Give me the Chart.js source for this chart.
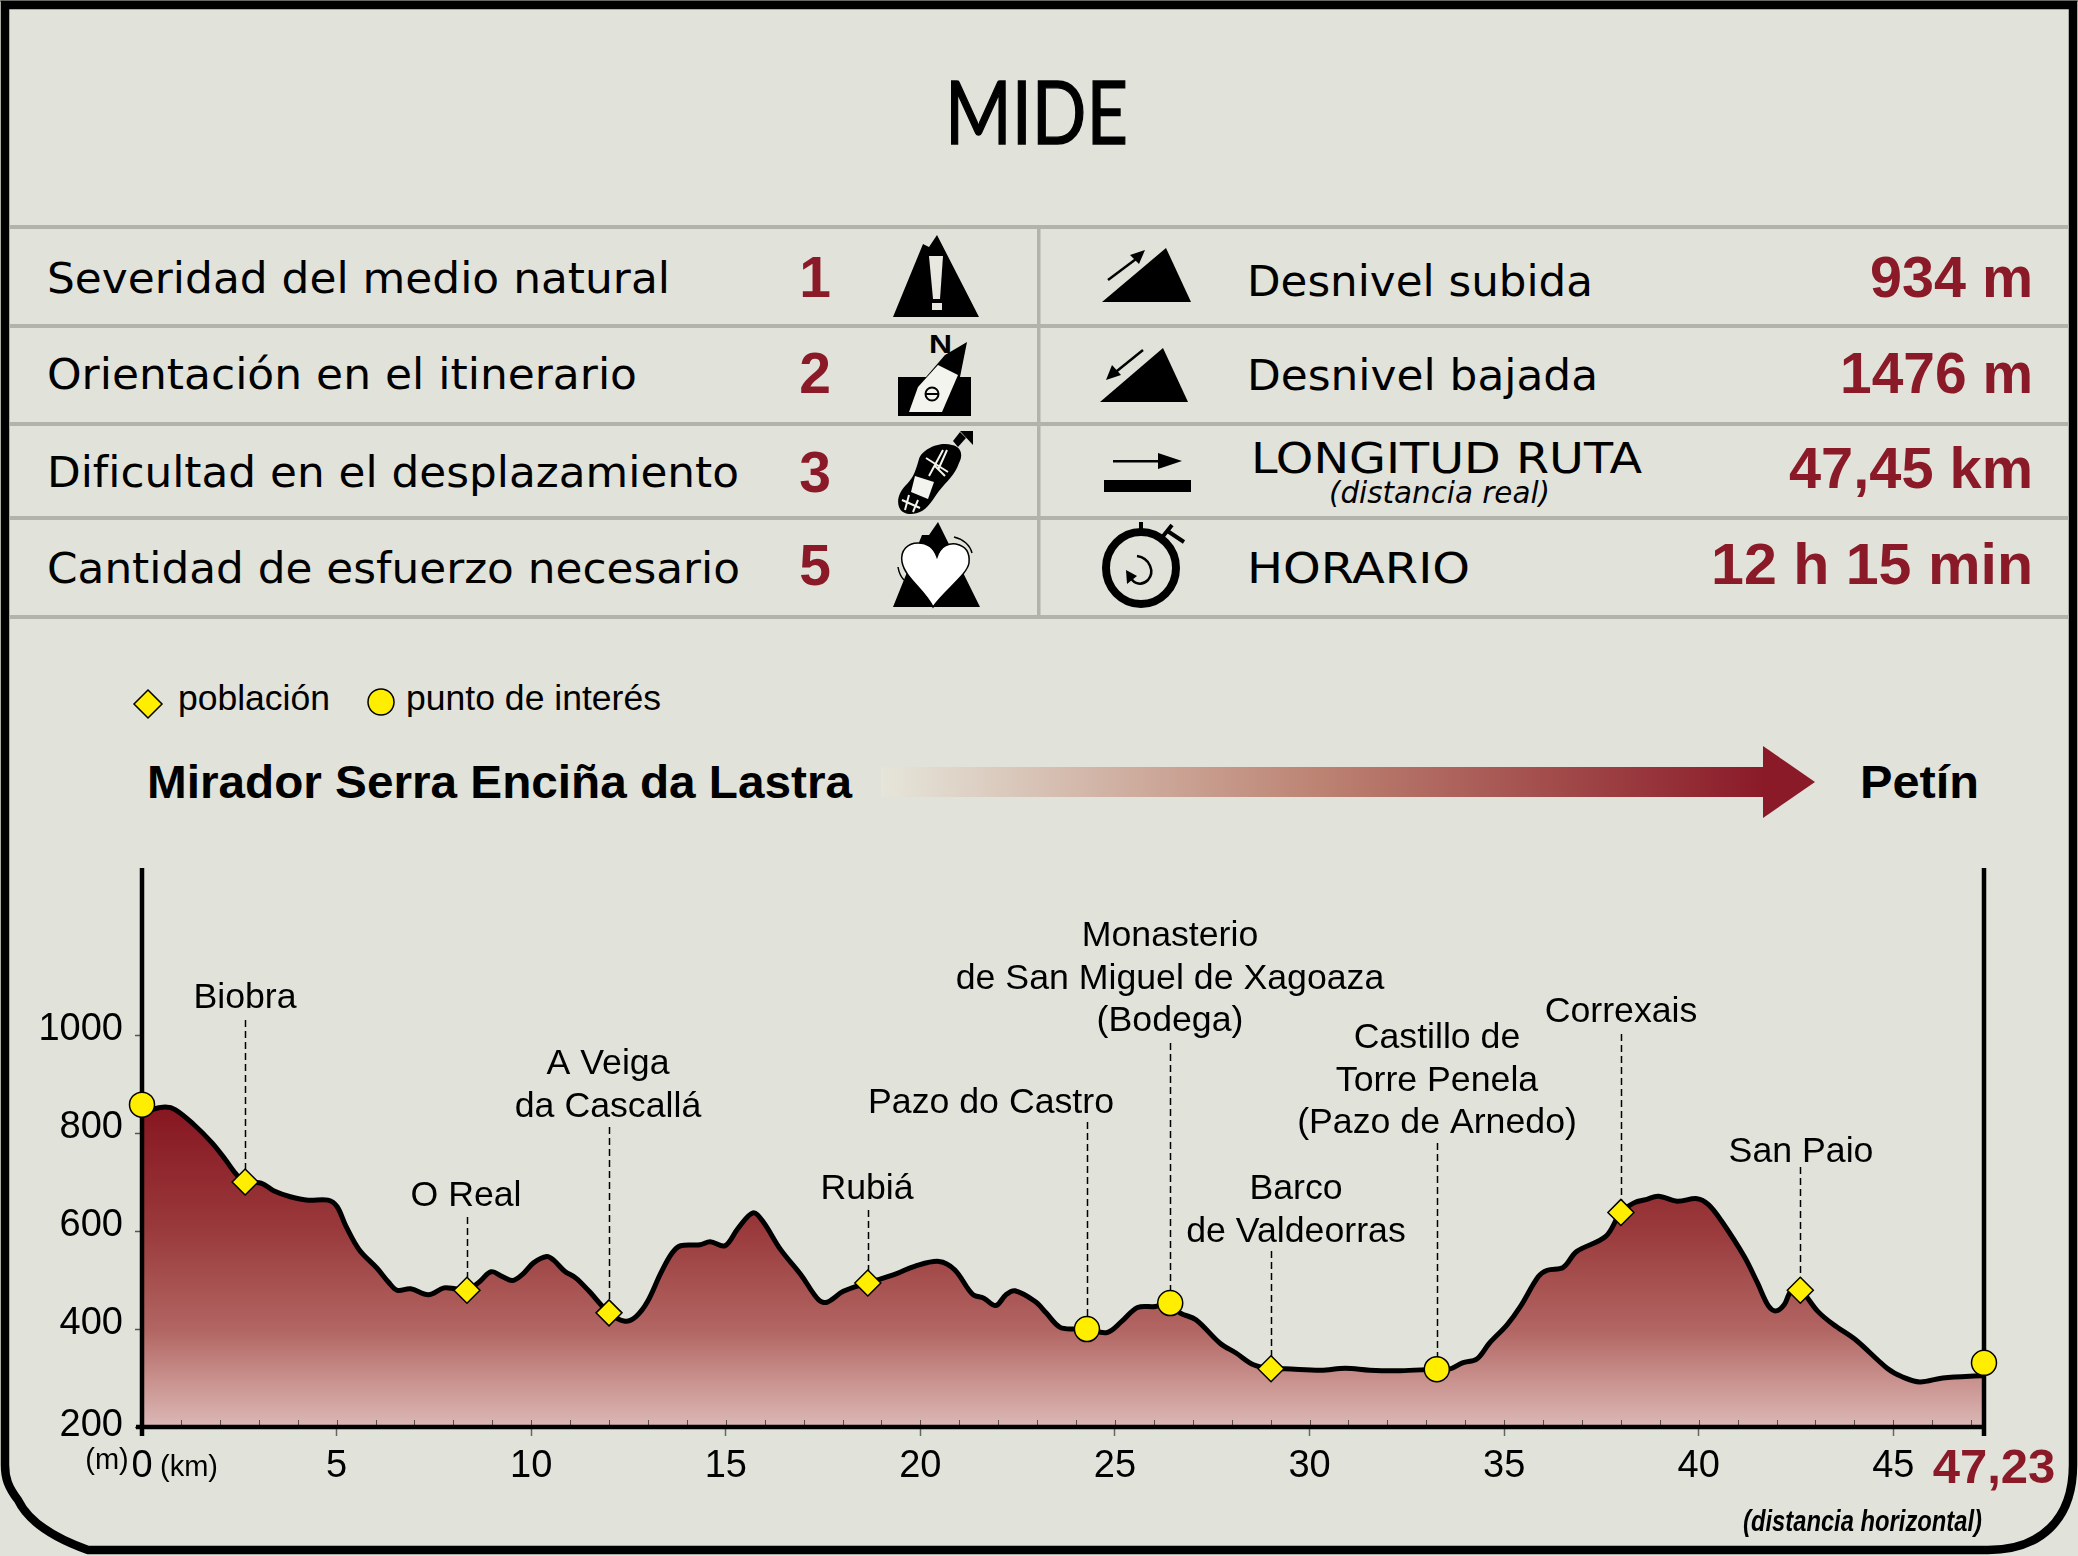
<!DOCTYPE html>
<html lang="es">
<head>
<meta charset="utf-8">
<title>MIDE</title>
<script src="https://cdn.jsdelivr.net/npm/chart.js@4/dist/chart.umd.min.js"></script>
<style>
  html, body { margin: 0; padding: 0; background: #e1e2d9; }
  #page { position: relative; width: 2078px; height: 1556px; overflow: hidden; }
  #sheet, #chartBox { position: absolute; left: 0; top: 0; width: 2078px; height: 1556px; }
</style>
</head>
<body>
<div id="page">
  <svg id="sheet" width="2078" height="1556" viewBox="0 0 2078 1556" xmlns="http://www.w3.org/2000/svg"></svg>
  <div id="chartBox"><canvas id="profile" width="2078" height="1556"></canvas></div>
</div>
<script>
// mide table
const leftLabels = ['Severidad del medio natural', 'Orientación en el itinerario', 'Dificultad en el desplazamiento', 'Cantidad de esfuerzo necesario'];
const leftGrades = ['1', '2', '3', '5'];
const rightLabels = ['Desnivel subida', 'Desnivel bajada', 'LONGITUD RUTA', 'HORARIO'];
const rightValues = ['934 m', '1476 m', '47,45 km', '12 h 15 min'];

// elevation profile: km and metres
const profileKm = [0, 0.31, 0.6, 0.85, 1.31, 1.8, 2.14, 2.43, 2.65, 3.06, 3.41, 3.81, 4.27, 4.78, 5.01, 5.24, 5.58, 6.04, 6.33, 6.56, 6.9, 7.36, 7.76, 8.05, 8.35, 8.68, 8.97, 9.26, 9.52, 9.77, 10.06, 10.4, 10.57, 10.86, 11.15, 11.49, 12, 12.41, 12.7, 12.99, 13.33, 13.62, 13.84, 14.34, 14.6, 14.98, 15.32, 15.7, 15.95, 16.41, 16.93, 17.39, 17.61, 18.02, 18.65, 19.39, 19.85, 20.48, 20.88, 21.34, 21.63, 21.94, 22.2, 22.43, 22.95, 23.23, 23.58, 23.96, 24.28, 24.8, 25.18, 25.58, 26.04, 26.42, 26.67, 27.08, 27.7, 28.11, 28.56, 29.01, 29.37, 30.29, 30.92, 31.55, 32.33, 33.27, 33.59, 33.93, 34.3, 34.62, 35.08, 35.42, 35.88, 36.11, 36.52, 36.86, 37.61, 38, 38.35, 38.64, 38.96, 39.44, 39.96, 40.25, 40.59, 41.17, 41.51, 41.8, 41.99, 42.2, 42.37, 42.61, 43.06, 43.46, 44.03, 44.84, 45.24, 45.68, 46.27, 47.33];
const profileM = [840, 849, 853, 848, 819, 780, 746, 715, 700, 698, 681, 670, 663, 663, 650, 610, 562, 524, 496, 479, 482, 470, 484, 482, 479, 497, 517, 507, 499, 511, 535, 548, 541, 518, 504, 477, 433, 416, 426, 456, 514, 555, 570, 572, 578, 570, 606, 637, 620, 562, 511, 459, 455, 477, 494, 513, 528, 538, 521, 471, 463, 448, 470, 478, 456, 433, 404, 400, 400, 393, 416, 444, 446, 453, 433, 419, 371, 351, 327, 319, 319, 316, 320, 316, 315, 318, 318, 331, 339, 371, 409, 446, 507, 520, 526, 558, 589, 638, 658, 664, 671, 661, 666, 654, 620, 548, 494, 446, 437, 450, 477, 479, 436, 409, 378, 320, 302, 292, 300, 305];

// markers
const villageKm = [2.65, 8.35, 12, 18.65, 29.01, 38, 42.61];
const villageM = [700, 479, 433, 494, 319, 638, 479];
const poiKm = [0, 24.28, 26.42, 33.27, 47.33];
const poiM = [858, 400, 453, 318, 331];

// place names, in the order of the leaders below
const placeNames = [
  ['Biobra'], ['O Real'], ['A Veiga', 'da Cascallá'], ['Rubiá'], ['Pazo do Castro'],
  ['Monasterio', 'de San Miguel de Xagoaza', '(Bodega)'], ['Barco', 'de Valdeorras'],
  ['Castillo de', 'Torre Penela', '(Pazo de Arnedo)'], ['Correxais'], ['San Paio']
];
const placeKm = [2.65, 8.35, 12, 18.65, 24.28, 26.42, 29.01, 33.27, 38, 42.61];
const placeM = [700, 479, 433, 494, 400, 453, 319, 318, 638, 479];

const yTicks = [200, 400, 600, 800, 1000];
const xTicks = [0, 5, 10, 15, 20, 25, 30, 35, 40, 45, 47.33];
const xLabels = ['0', '5', '10', '15', '20', '25', '30', '35', '40', '45', ''];
const totalLabel = '47,23';
const startName = 'Mirador Serra Enciña da Lastra';
const endName = 'Petín';

const RED = '#8a1a28';
const INK = '#000';
const SANS = '"Liberation Sans", Arial, sans-serif';
const VERA = '"DejaVu Sans", Verdana, sans-serif';

// layout of the sheet, in page pixels
const rowLines = [227, 326, 424, 518, 617];
const leftBase = [293, 389, 487, 583];
const leftWidth = [623, 590, 692, 693];
const gradeBase = [297, 393, 492, 585];
const rightBase = [296, 390, 473, 583];
const rightX = [1247, 1247, 1251, 1247];
const rightWidth = [346, 351, 391, 223];
const valueBase = [297, 393, 488, 584];
const valueWidth = [163, 193, 244, 322];

// label anchors for the profile: centre x, first baseline and leader top, page pixels
const placeCentre = [245, 466, 608, 867, 991, 1170, 1296, 1437, 1621, 1801];
const placeBase = [1008, 1206, 1074, 1199, 1113, 946, 1199, 1048, 1022, 1162];
const leaderTop = [1020, 1217, 1127, 1210, 1122, 1043, 1251, 1143, 1034, 1167];

function txt(s, x, y, size, opts) {
  const o = opts || {};
  const len = o.width ? ` textLength="${o.width}" lengthAdjust="spacingAndGlyphs"` : '';
  const edge = o.stroke ? ` stroke="${o.fill || INK}" stroke-width="${o.stroke}"` : '';
  return `<text x="${x}" y="${y}" font-family='${o.font || VERA}' font-size="${size}"` +
    ` font-weight="${o.weight || 'normal'}" font-style="${o.style || 'normal'}"` +
    ` fill="${o.fill || INK}" text-anchor="${o.anchor || 'start'}"${len}${edge}>${s}</text>`;
}

function sheet() {
  let s = '';
  s += `<defs><linearGradient id="fade" x1="0" x2="1" y1="0" y2="0">
    <stop offset="0" stop-color="#e6e5da"/><stop offset="0.5" stop-color="#bc8272"/><stop offset="1" stop-color="${RED}"/></linearGradient></defs>`;
  s += '<rect x="0" y="0" width="2078" height="2" fill="#8a8a86"/>';
  // frame
  s += `<path d="M5,5 H2073 V1465 C2073,1520 2040,1550 1988,1550 H88 C60,1540 30,1525 18,1500 C8,1487 5,1478 5,1465 Z"
    fill="none" stroke="#000" stroke-width="8.5"/>`;
  // title
  s += txt('MIDE', 945, 144, 88, { font: 'Lato, sans-serif', width: 183, stroke: 1.4 });
  // table lines
  rowLines.forEach(y => { s += `<rect x="10" y="${y - 2}" width="2059" height="4" fill="#b2b3ab"/>`; });
  s += '<rect x="1037" y="227" width="3.5" height="390" fill="#b2b3ab"/>';
  // table text
  leftLabels.forEach((t, i) => {
    s += txt(t, 47, leftBase[i], 43, { width: leftWidth[i] });
    s += txt(leftGrades[i], 815, gradeBase[i], 57, { font: SANS, weight: 'bold', fill: RED, anchor: 'middle' });
  });
  rightLabels.forEach((t, i) => {
    s += txt(t, rightX[i], rightBase[i], 43, { width: rightWidth[i] });
    s += txt(rightValues[i], 2033 - valueWidth[i], valueBase[i], 57, { font: SANS, weight: 'bold', fill: RED, width: valueWidth[i] });
  });
  s += txt('(distancia real)', 1329, 503, 30, { style: 'italic', width: 221 });
  s += icons();
  // legend
  s += '<polygon points="148,690 162,704 148,718 134,704" fill="#ffee00" stroke="#000" stroke-width="1.5"/>';
  s += txt('población', 178, 710, 35, { font: SANS, width: 152 });
  s += '<circle cx="381" cy="702" r="13" fill="#ffee00" stroke="#000" stroke-width="1.5"/>';
  s += txt('punto de interés', 406, 710, 35, { font: SANS, width: 255 });
  // route
  s += txt(startName, 147, 798, 46, { font: SANS, weight: 'bold', width: 705 });
  s += txt(endName, 1860, 798, 46, { font: SANS, weight: 'bold', width: 119 });
  s += '<rect x="881" y="767" width="883" height="30" fill="url(#fade)"/>';
  s += `<polygon points="1763,746 1815,782 1763,818" fill="${RED}"/>`;
  return s;
}

function icons() {
  let s = '';
  // severidad
  s += '<polygon points="893,317 923,244 929,247 937,235 979,317" fill="#000"/>';
  s += '<polygon points="929,256 943,256 940,299 933,299" fill="#e8e8e0"/><rect x="932" y="303" width="10" height="7" fill="#e8e8e0"/>';
  // orientacion
  s += txt('N', 929, 353, 26, { font: SANS, weight: 'bold', width: 23 });
  s += '<rect x="898" y="377" width="73" height="39" fill="#000"/>';
  s += '<polygon points="967,342 945,355 920,384 960,377" fill="#000"/>';
  s += '<polygon points="938,365 958,375 942,412 909,412 918,387" fill="#f4f4ee"/>';
  s += '<circle cx="932" cy="394" r="6.5" fill="none" stroke="#000" stroke-width="2"/><rect x="926" y="393" width="12" height="2" fill="#000"/>';
  // desplazamiento
  s += '<path d="M952,445 C962,447 963,456 959,463 C955,475 947,481 939,491 C933,499 929,507 922,511 C913,516 902,515 899,507 C896,498 901,490 907,484 C914,477 916,469 919,459 C922,449 940,441 952,445 Z" fill="#000"/>';
  s += '<polygon points="915,476 934,482 928,499 911,492" fill="#f4f4ee"/>';
  s += '<path d="M929,476 L943,450 M947,450 L938,470 M926,458 L948,472 M934,465 L945,476 M909,495 L905,510 M918,500 L913,512 M902,500 L920,508" stroke="#f4f4ee" stroke-width="2" fill="none"/>';
  s += '<polygon points="953,441 960,432 966,438 958,447" fill="#000"/><polygon points="960,431 973,431 973,445" fill="#000"/>';
  // esfuerzo
  s += '<polygon points="893,607 922,535 929,535 938,522 980,607" fill="#000"/>';
  s += '<path d="M937,557 C941,545 950,543 956,544 C966,546 970,553 969,563 C967,575 945,590 933,607 C925,590 905,578 902,562 C900,550 908,543 918,543 C927,543 934,548 937,557 Z" fill="#fff" stroke="#000" stroke-width="1.5"/>';
  s += '<path d="M954,537 C963,539 970,545 972,553 M898,567 C899,573 901,577 904,580" fill="none" stroke="#000" stroke-width="1.5"/>';
  // subida
  s += '<polygon points="1102,302 1166,248 1191,302" fill="#000"/>';
  s += '<path d="M1108,280 L1140,256" stroke="#000" stroke-width="2.5"/><polygon points="1145,250 1130,255 1139,264" fill="#000"/>';
  // bajada
  s += '<polygon points="1100,402 1163,348 1188,402" fill="#000"/>';
  s += '<path d="M1143,350 L1112,375" stroke="#000" stroke-width="2.5"/><polygon points="1106,380 1121,375 1112,365" fill="#000"/>';
  // longitud
  s += '<rect x="1113" y="460" width="50" height="2.5" fill="#000"/><polygon points="1158,453 1182,461 1158,469" fill="#000"/>';
  s += '<rect x="1104" y="480" width="87" height="12" fill="#000"/>';
  // horario
  s += '<ellipse cx="1141" cy="568" rx="35" ry="36" fill="none" stroke="#000" stroke-width="8"/>';
  s += '<rect x="1139" y="522" width="4" height="12" fill="#000"/>';
  s += '<path d="M1160,540 L1172,525 M1166,530 L1184,542" stroke="#000" stroke-width="4" fill="none"/>';
  s += '<path d="M1137,556 C1150,558 1155,572 1148,580 C1142,586 1134,584 1131,578" fill="none" stroke="#000" stroke-width="2.5"/>';
  s += '<polygon points="1126,570 1137,576 1127,584" fill="#000"/>';
  return s;
}

document.getElementById('sheet').innerHTML = sheet();

// lines and text that Chart.js has no option for
const profileExtras = {
  id: 'profileExtras',
  afterDatasetDraw(chart, args) {
    if (args.index !== 0) return;
    const { ctx, scales: { x, y }, chartArea: a } = chart;
    ctx.save();
    // minor km ticks, inside the fill
    ctx.strokeStyle = '#5b4a4a';
    ctx.lineWidth = 1;
    for (let km = 1; km <= 47; km++) {
      const px = Math.round(x.getPixelForValue(km)) + 0.5;
      ctx.beginPath();
      ctx.moveTo(px, a.bottom - 7);
      ctx.lineTo(px, a.bottom);
      ctx.stroke();
    }
    // axes sit over the fill but under the markers
    ctx.strokeStyle = INK;
    ctx.lineWidth = 4.5;
    ctx.beginPath();
    ctx.moveTo(a.left, a.top);
    ctx.lineTo(a.left, a.bottom + 9);
    ctx.moveTo(a.right, a.top);
    ctx.lineTo(a.right, a.bottom + 9);
    ctx.moveTo(a.left - 6, a.bottom);
    ctx.lineTo(a.right, a.bottom);
    ctx.stroke();
    // leaders
    ctx.lineWidth = 1.5;
    ctx.setLineDash([7, 4]);
    placeKm.forEach((km, i) => {
      const px = Math.round(x.getPixelForValue(km)) + 0.5;
      ctx.beginPath();
      ctx.moveTo(px, leaderTop[i]);
      ctx.lineTo(px, y.getPixelForValue(placeM[i]));
      ctx.stroke();
    });
    ctx.restore();
  },
  afterDraw(chart) {
    const { ctx, scales: { x } } = chart;
    ctx.save();
    ctx.fillStyle = INK;
    ctx.textAlign = 'center';
    ctx.textBaseline = 'alphabetic';
    ctx.font = '35.7px ' + SANS;
    placeNames.forEach((lines, i) => {
      lines.forEach((line, n) => ctx.fillText(line, placeCentre[i], placeBase[i] + n * 42.7));
    });
    ctx.font = '29px ' + SANS;
    ctx.fillText('(m)', 107, 1469);
    ctx.fillText('(km)', 189, 1476);
    ctx.font = 'bold 49px ' + SANS;
    ctx.fillStyle = RED;
    ctx.fillText(totalLabel, x.getPixelForValue(47.33) + 10, 1483);
    ctx.fillStyle = INK;
    ctx.font = 'italic bold 29px ' + SANS;
    ctx.textAlign = 'right';
    const label = '(distancia horizontal)';
    const wide = ctx.measureText(label).width;
    ctx.save();
    ctx.translate(1982, 1531);
    ctx.scale(239 / wide, 1);
    ctx.fillText(label, 0, 0);
    ctx.restore();
    ctx.restore();
  }
};

new Chart(document.getElementById('profile'), {
  type: 'line',
  data: {
    datasets: [
      {
        label: 'perfil',
        data: profileKm.map((km, i) => ({ x: km, y: profileM[i] })),
        borderColor: INK,
        borderWidth: 5,
        tension: 0.35,
        pointRadius: 0,
        fill: 'start',
        order: 3,
        clip: false,
        backgroundColor(c) {
          const { chart } = c;
          if (!chart.chartArea) return RED;
          const g = chart.ctx.createLinearGradient(0, chart.scales.y.getPixelForValue(858), 0, chart.chartArea.bottom);
          g.addColorStop(0, '#861520');
          g.addColorStop(0.39, '#9a3a3c');
          g.addColorStop(0.7, '#b26663');
          g.addColorStop(0.85, '#c8908c');
          g.addColorStop(1, '#dbb8b6');
          return g;
        }
      },
      {
        label: 'población',
        data: villageKm.map((km, i) => ({ x: km, y: villageM[i] })),
        showLine: false,
        pointStyle: 'rectRot',
        pointRadius: 13,
        pointBackgroundColor: '#ffee00',
        pointBorderColor: INK,
        pointBorderWidth: 1.5,
        order: 1,
        clip: false
      },
      {
        label: 'punto de interés',
        data: poiKm.map((km, i) => ({ x: km, y: poiM[i] })),
        showLine: false,
        pointStyle: 'circle',
        pointRadius: 12.5,
        pointBackgroundColor: '#ffee00',
        pointBorderColor: INK,
        pointBorderWidth: 1.5,
        order: 1,
        clip: false
      }
    ]
  },
  options: {
    responsive: false,
    animation: false,
    devicePixelRatio: 1,
    layout: { padding: { left: 0, top: 868, right: 94, bottom: 0 } },
    plugins: { legend: { display: false }, tooltip: { enabled: false } },
    scales: {
      x: {
        type: 'linear',
        min: 0,
        max: 47.33,
        afterBuildTicks(scale) { scale.ticks = xTicks.map(v => ({ value: v })); },
        afterFit(scale) { scale.height = 129; },
        border: { display: false },
        grid: { drawOnChartArea: false, tickLength: 9, tickColor: '#666', tickWidth: 1.5 },
        ticks: {
          autoSkip: false,
          maxRotation: 0,
          padding: 8,
          color: INK,
          font: { family: SANS, size: 38 },
          callback(v) { return xLabels[xTicks.indexOf(v)]; }
        }
      },
      y: {
        min: 200,
        max: 1341,
        afterBuildTicks(scale) { scale.ticks = yTicks.map(v => ({ value: v })); },
        afterFit(scale) { scale.width = 142; },
        border: { display: false },
        grid: { drawOnChartArea: false, tickLength: 7, tickColor: '#555', tickWidth: 1.5 },
        ticks: {
          padding: 12,
          color: INK,
          font: c => ({ family: SANS, size: 38, lineHeight: c.tick && c.tick.value === 200 ? '3px' : '11px' }),
          // second empty line lifts the number above its tick, as in the original
          callback(v) { return [String(v), '']; }
        }
      }
    }
  },
  plugins: [profileExtras]
});
</script>
</body>
</html>
